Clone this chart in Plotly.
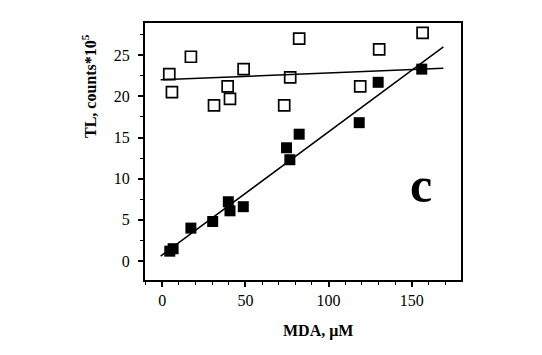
import plotly.graph_objects as go

# data
open_x = [4.2, 5.8, 17.2, 31.1, 39.3, 40.7, 48.9, 73.3, 76.9, 82.3, 119.0, 130.4, 156.5]
open_y = [22.7, 20.5, 24.8, 18.9, 21.2, 19.7, 23.3, 18.9, 22.3, 27.0, 21.2, 25.7, 27.7]

filled_x = [4.5, 6.5, 17.2, 30.3, 39.7, 40.7, 48.7, 74.7, 76.7, 82.3, 118.4, 129.8, 156.0]
filled_y = [1.2, 1.5, 4.0, 4.8, 7.2, 6.1, 6.6, 13.75, 12.3, 15.4, 16.8, 21.7, 23.3]

fit_x = [-1.0, 169.0]
fit_open_y = [22.0, 23.4]
fit_filled_y = [0.6, 26.0]

x_ticks = [0, 50, 100, 150]
y_ticks = [0, 5, 10, 15, 20, 25]

serif = "Liberation Serif, Times New Roman, serif"

# page offset of the plotly div (default body margin)
OFF = 8
W, H = 534, 347
L, R, T, B = 137, 81, 15, 75

fig = go.Figure()
fig.add_trace(go.Scatter(x=fit_x, y=fit_open_y, mode="lines",
                         line=dict(color="black", width=1.5), showlegend=False))
fig.add_trace(go.Scatter(x=fit_x, y=fit_filled_y, mode="lines",
                         line=dict(color="black", width=1.5), showlegend=False))
fig.add_trace(go.Scatter(x=open_x, y=open_y, mode="markers",
                         marker=dict(symbol="square-open", size=11, color="black",
                                     line=dict(width=1.7, color="black")),
                         showlegend=False))
fig.add_trace(go.Scatter(x=filled_x, y=filled_y, mode="markers",
                         marker=dict(symbol="square", size=11, color="black"),
                         showlegend=False))

axis_common = dict(showline=True, linecolor="black", linewidth=2, mirror=True,
                   showgrid=False, zeroline=False, ticks="outside", ticklen=5,
                   tickwidth=1.5, tickcolor="black",
                   tickfont=dict(family=serif, size=16, color="black"))

fig.update_xaxes(range=[-10.4, 179.6], tickvals=x_ticks,
                 minor=dict(dtick=10, tick0=0, ticks="outside", ticklen=3,
                            tickwidth=1.2, tickcolor="black"),
                 **axis_common)
fig.update_yaxes(range=[-2.3, 28.9], tickvals=y_ticks, ticklabelstandoff=5,
                 minor=dict(dtick=2.5, tick0=0, ticks="outside", ticklen=3,
                            tickwidth=1.2, tickcolor="black"),
                 **axis_common)

pw, ph = W - L - R, H - T - B


def px_to_paper(px, py):
    # page pixel -> paper coordinates
    return (px - OFF - L) / pw, (H - B - (py - OFF)) / ph


fig.add_annotation(text="<b>c</b>", x=155.5, y=9.2, xref="x", yref="y",
                   xanchor="center", yanchor="middle",
                   showarrow=False, font=dict(family=serif, size=50, color="black"))
xt_x, xt_y = px_to_paper(318, 331)
fig.add_annotation(text="<b>MDA, μM</b>", x=xt_x, y=xt_y, xref="paper", yref="paper",
                   xanchor="center", yanchor="middle",
                   showarrow=False, font=dict(family=serif, size=16, color="black"))
yt_x, yt_y = px_to_paper(89, 86)
fig.add_annotation(text="<b>TL, counts*10<sup>5</sup></b>", textangle=-90,
                   xanchor="center", yanchor="middle",
                   showarrow=False, font=dict(family=serif, size=16, color="black"),
                   xref="paper", yref="paper", x=yt_x, y=yt_y)

fig.update_layout(width=W, height=H, margin=dict(l=L, r=R, t=T, b=B),
                  plot_bgcolor="white", paper_bgcolor="white")

fig.write_html("out.html")
